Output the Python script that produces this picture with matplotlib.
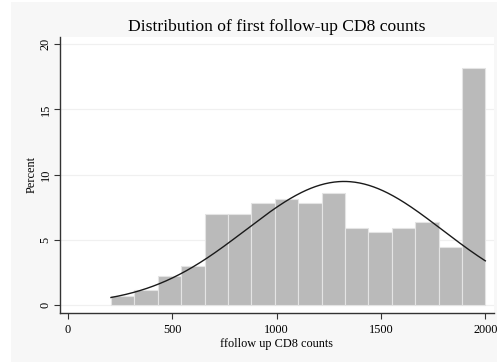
import numpy as np
import matplotlib
matplotlib.use("Agg")
import matplotlib.pyplot as plt
from matplotlib.patches import Rectangle

# Data
bin_min = 206
bin_max = 2000
percents = [0.71, 1.13, 2.23, 2.99, 7.0, 7.0, 7.8, 8.13, 7.8, 8.57,
            5.93, 5.58, 5.93, 6.35, 4.45, 18.17]
x_ticks = [0, 500, 1000, 1500, 2000]
y_ticks = [0, 5, 10, 15, 20]
fit_mean = 1323
fit_sd = 472

title = "Distribution of first follow-up CD8 counts"
xlabel = "ffollow up CD8 counts"
ylabel = "Percent"

plt.rcParams['font.family'] = ['Liberation Serif', 'DejaVu Serif']

W, H = 497, 362
fig = plt.figure(figsize=(W / 100, H / 100), dpi=100)
fig.patch.set_facecolor('white')
# light gray outer background region
fig.patches.append(Rectangle((11 / W, 0), 1 - 11 / W, 1 - 2 / H,
                             transform=fig.transFigure, facecolor='#f7f7f7',
                             edgecolor='none', zorder=-10))

ax = fig.add_axes([60 / W, (H - 313) / H, (494 - 60) / W, (313 - 37) / H])
ax.set_facecolor('white')

n_bins = len(percents)
edges = np.linspace(bin_min, bin_max, n_bins + 1)
width = edges[1] - edges[0]
ax.bar(edges[:-1], percents, width=width, align='edge', color='#bababa',
       edgecolor='#e4e4e4', linewidth=0.8, zorder=2)

xs = np.linspace(bin_min, bin_max, 400)
ys = 100 * width / (fit_sd * np.sqrt(2 * np.pi)) * np.exp(-0.5 * ((xs - fit_mean) / fit_sd) ** 2)
ax.plot(xs, ys, color='#1a1a1a', linewidth=1.0, zorder=3)

ax.set_xlim(-38.3, 2041.7)
ax.set_ylim(-0.614, 20.56)
ax.set_xticks(x_ticks)
ax.set_yticks(y_ticks)
ax.set_yticklabels([str(t) for t in y_ticks], rotation=90, va='center')
ax.grid(axis='y', color='#f0f0f0', linewidth=0.9, zorder=0)
ax.set_axisbelow(True)

for s in ['top', 'right']:
    ax.spines[s].set_visible(False)
for s in ['left', 'bottom']:
    ax.spines[s].set_color('#333333')
    ax.spines[s].set_linewidth(1.0)
ax.tick_params(axis='both', colors='#333333', length=4, width=0.8,
               labelsize=8.8, labelcolor='black')
ax.tick_params(axis='x', pad=4)
ax.tick_params(axis='y', pad=2)

ax.set_title(title, fontsize=12.6, pad=4)
ax.set_xlabel(xlabel, fontsize=8.8, labelpad=1.5)
ax.set_ylabel(ylabel, fontsize=8.8, labelpad=1.5)

fig.savefig("out.png", dpi=100, facecolor=fig.get_facecolor())
